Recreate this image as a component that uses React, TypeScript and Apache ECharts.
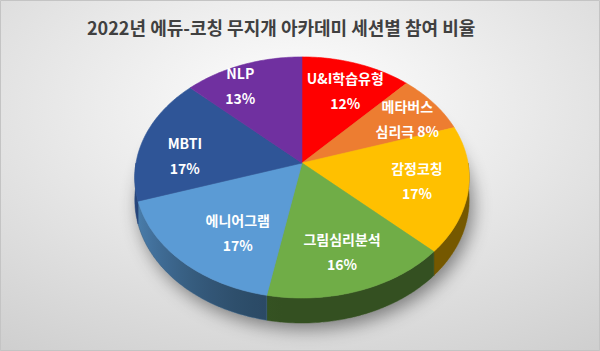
import React, { useEffect, useRef } from "react";
import * as echarts from "echarts";

const titleText = "2022년 에듀-코칭 무지개 아카데미 세션별 참여 비율";
const categories = ["U&I학습유형", "메타버스\n심리극", "감정코칭", "그림심리분석", "에니어그램", "MBTI", "NLP"];
const values = [12, 8, 17, 16, 17, 17, 13];
const colors = ["#FF0000", "#ED7D31", "#FFC000", "#70AD47", "#5B9BD5", "#2F5597", "#7030A0"];
// label nudges (style only, pixels)
const labelNudge = [[1, 4], [5, 1], [-9, -2], [-2, -4], [24, -2], [2, 12], [-16, -2]];

const FONT = '"Noto Sans CJK KR", "Noto Sans", sans-serif';
const CX = 302, CY = 163, K = 166, S = 118.8, T = 22, A = 0.12;

function proj(r: number, th: number, w: number): number[] {
  const u = r * Math.sin(th);
  const v = r * Math.cos(th);
  const d = 1 + A * v;
  return [CX + (K * u) / d, CY + (-S * v - T * w) / d];
}

function shade(hex: string, f: number): string {
  const n = parseInt(hex.slice(1), 16);
  const r = Math.round(((n >> 16) & 255) * f);
  const g = Math.round(((n >> 8) & 255) * f);
  const b = Math.round((n & 255) * f);
  return `rgb(${r},${g},${b})`;
}

function sideFactor(th: number): number {
  const s = Math.max(0, -Math.sin(th));
  return 0.46 + 0.38 * s * s;
}

export default function App() {
  const ref = useRef<HTMLDivElement>(null);
  useEffect(() => {
    document.body.style.margin = "0";
    const chart = echarts.init(ref.current as HTMLDivElement, null, { renderer: "svg" });
    const total = values.reduce((a, b) => a + b, 0);
    const starts: number[] = [];
    let acc = 0;
    values.forEach((v) => {
      starts.push(acc);
      acc += v;
    });
    const TWO_PI = Math.PI * 2;

    const renderItem = (params: any, api: any) => {
      const i = params.dataIndex;
      const v = api.value(0);
      const t0 = (starts[i] / total) * TWO_PI;
      const t1 = ((starts[i] + v) / total) * TWO_PI;
      const children: any[] = [];

      if (i === 0) {
        const pts: number[][] = [];
        for (let k = 0; k <= 120; k++) pts.push(proj(1, (k / 120) * TWO_PI, -1));
        children.push({
          type: "polygon",
          z2: -5,
          shape: { points: pts },
          style: {
            fill: "#9a9a9a",
            shadowBlur: 18,
            shadowColor: "rgba(0,0,0,0.45)",
            shadowOffsetX: 4,
            shadowOffsetY: 6,
          },
        });
      }

      const s0 = Math.max(t0, Math.PI / 2);
      const s1 = Math.min(t1, (Math.PI * 3) / 2);
      if (s1 > s0) {
        const n = Math.max(4, Math.ceil(((s1 - s0) * 180) / Math.PI));
        const top: number[][] = [];
        const bot: number[][] = [];
        for (let k = 0; k <= n; k++) {
          const th = s0 + ((s1 - s0) * k) / n;
          top.push(proj(1, th, 0));
          bot.push(proj(1, th, -1));
        }
        const pts = top.concat(bot.reverse());
        const xs = pts.map((p) => p[0]);
        const minX = Math.min(...xs), maxX = Math.max(...xs);
        const stops: any[] = [];
        for (let k = 0; k <= 12; k++) {
          const th = s0 + ((s1 - s0) * k) / 12;
          const x = proj(1, th, 0)[0];
          stops.push({ offset: Math.min(1, Math.max(0, (x - minX) / Math.max(1, maxX - minX))), color: shade(colors[i], sideFactor(th)) });
        }
        stops.sort((a, b) => a.offset - b.offset);
        children.push({
          type: "polygon",
          z2: 1,
          shape: { points: pts },
          style: {
            fill: new echarts.graphic.LinearGradient(0, 0, 1, 0, stops),
            stroke: shade(colors[i], sideFactor((s0 + s1) / 2)),
            lineWidth: 0.5,
          },
        });
      }

      const n = Math.max(4, Math.ceil(((t1 - t0) * 180) / Math.PI));
      const pts: number[][] = [[CX, CY]];
      for (let k = 0; k <= n; k++) pts.push(proj(1, t0 + ((t1 - t0) * k) / n, 0));
      children.push({
        type: "polygon",
        z2: 10,
        shape: { points: pts },
        style: { fill: colors[i], stroke: colors[i], lineWidth: 0.6 },
      });

      const mid = (t0 + t1) / 2;
      const lp = proj(0.75, mid, 0);
      const name = categories[i];
      const pct = Math.round((v / total) * 100) + "%";
      const text = name.indexOf("\n") >= 0 ? name + " " + pct : name + "\n" + pct;
      children.push({
        type: "text",
        z2: 20,
        style: {
          text,
          x: lp[0] + labelNudge[i][0],
          y: lp[1] + labelNudge[i][1],
          fill: "#ffffff",
          fontSize: 14,
          fontWeight: "bold",
          fontFamily: FONT,
          align: "center",
          verticalAlign: "middle",
          lineHeight: 25,
        },
      });

      return { type: "group", children };
    };

    chart.setOption({
      animation: false,
      backgroundColor: {
        type: "radial",
        x: 0.5,
        y: 0.3,
        r: 0.85,
        colorStops: [
          { offset: 0, color: "#ffffff" },
          { offset: 1, color: "#cfcfcf" },
        ],
      },
      title: {
        text: titleText,
        left: 82,
        top: 13,
        textStyle: { fontFamily: FONT, fontSize: 18, fontWeight: "bold", color: "#404040" },
      },
      graphic: [
        {
          type: "rect",
          shape: { x: 0.5, y: 0.5, width: 599, height: 350 },
          style: { fill: "none", stroke: "#c4c4c4", lineWidth: 1 },
          silent: true,
        },
      ],
      series: [
        {
          type: "custom",
          coordinateSystem: "none",
          renderItem,
          data: values.map((v, i) => ({ name: categories[i], value: v })),
        },
      ],
    });
    return () => chart.dispose();
  }, []);
  return <div ref={ref} style={{ position: "absolute", left: 0, top: 0, width: 600, height: 351 }} />;
}
